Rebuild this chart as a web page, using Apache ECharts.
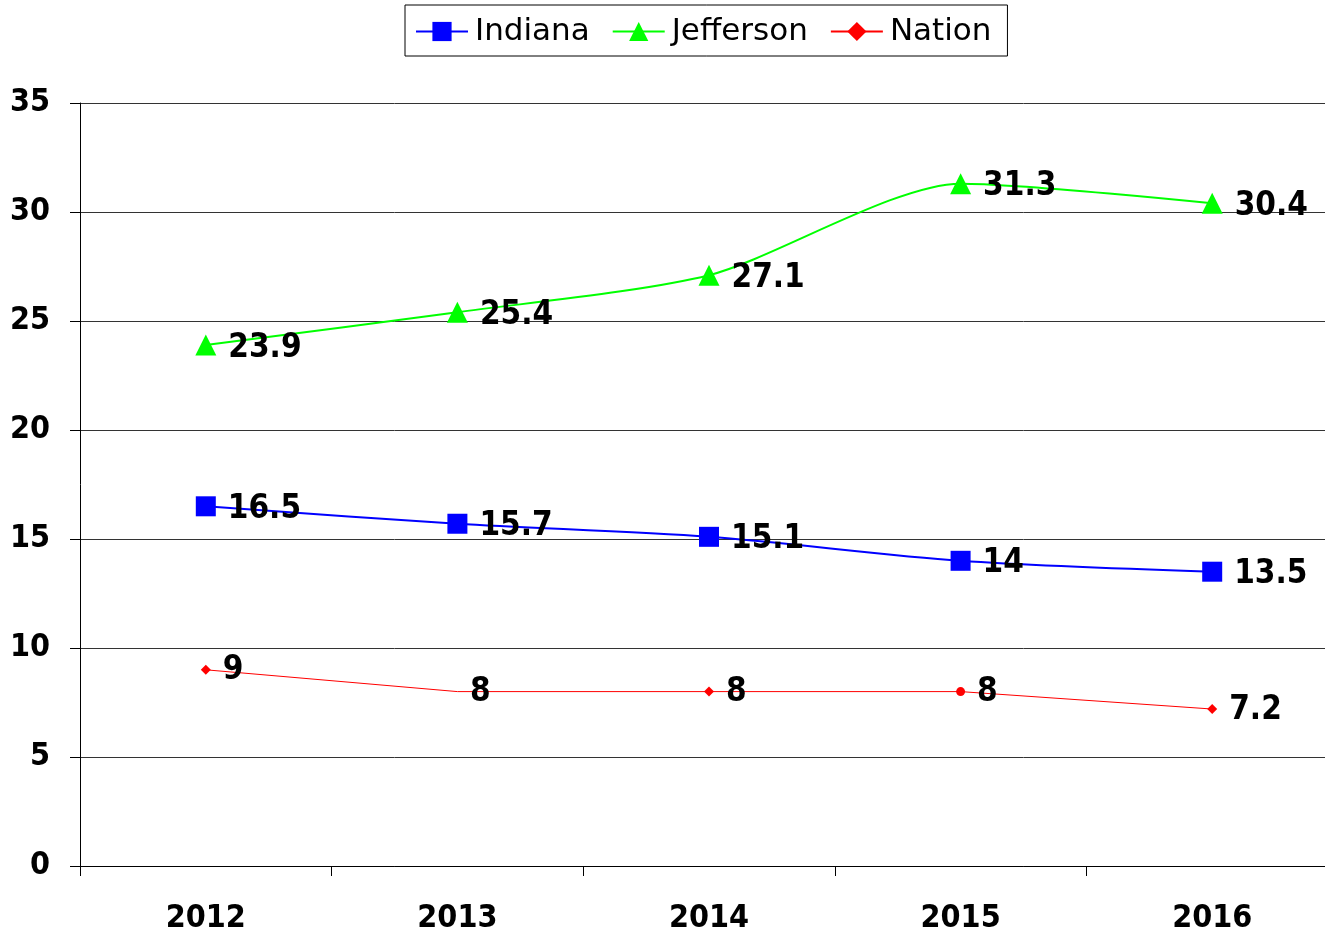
<!DOCTYPE html>
<html>
<head>
<meta charset="utf-8">
<script src="https://cdn.jsdelivr.net/npm/echarts@6/dist/echarts.min.js"></script>
<style>
	html, body { margin: 0; padding: 0; background: #fff; overflow: hidden; }
	#echart { width: 1338px; height: 934px; }
</style>
</head>
<body>
<div id="echart"></div>
<script>
let years = ['2012', '2013', '2014', '2015', '2016'];
let indiana = [16.5, 15.7, 15.1, 14, 13.5];
let jefferson = [23.9, 25.4, 27.1, 31.3, 30.4];
let nation = [9, 8, 8, 8, 7.2];
let nationSymbols = ['diamond', 'hidden', 'diamond', 'circle', 'diamond'];

let fontFamily = '"DejaVu Sans Condensed", "DejaVu Sans", Verdana, sans-serif';

function drawChart() {
	let dom = document.getElementById("echart");
	let myChart = echarts.init(dom);

	let labelStyle = {
		show: true,
		position: 'right',
		distance: 12,
		offset: [0, 3],
		color: '#000',
		fontSize: 33,
		fontWeight: 'bold',
		fontFamily: fontFamily
	};

	let option = {
		animation: false,
		backgroundColor: '#fff',
		legend: {
			top: 5,
			left: 405,
			data: ['Indiana', 'Jefferson', 'Nation'],
			borderColor: '#000',
			borderWidth: 1,
			padding: [11, 16, 9, 10],
			itemGap: 22,
			itemWidth: 52,
			itemHeight: 24,
			textStyle: {
				color: '#000',
				fontSize: 31,
				fontFamily: '"DejaVu Sans", Verdana, sans-serif',
				padding: [0, 0, 0, 2]
			}
		},
		grid: {
			left: 80,
			right: 0,
			top: 103,
			bottom: 68,
			containLabel: false,
			outerBoundsMode: 'none'
		},
		xAxis: {
			type: 'category',
			boundaryGap: true,
			data: years,
			axisLine: { lineStyle: { color: '#000', width: 1 } },
			axisTick: { show: true, length: 10, lineStyle: { color: '#000' } },
			axisLabel: {
				color: '#000',
				fontSize: 32,
				fontWeight: 'bold',
				fontFamily: fontFamily,
				margin: 37
			}
		},
		yAxis: {
			type: 'value',
			min: 0,
			max: 35,
			interval: 5,
			axisLine: { show: true, lineStyle: { color: '#000', width: 1 } },
			axisTick: { show: true, length: 10, lineStyle: { color: '#000' } },
			splitLine: { lineStyle: { color: '#333', width: 1 } },
			axisLabel: {
				color: '#000',
				fontSize: 32,
				fontWeight: 'bold',
				fontFamily: fontFamily,
				margin: 30,
				padding: [10, 0, 0, 0]
			}
		},
		series: [
			{
				name: 'Indiana',
				type: 'line',
				data: indiana,
				smooth: 0.3,
				symbol: 'rect',
				symbolSize: 20,
				itemStyle: { color: '#0000ff' },
				lineStyle: { color: '#0000ff', width: 2 },
				label: labelStyle
			},
			{
				name: 'Jefferson',
				type: 'line',
				data: jefferson,
				smooth: 0.25,
				symbol: 'triangle',
				symbolSize: 21,
				itemStyle: { color: '#00ff00' },
				lineStyle: { color: '#00ff00', width: 2 },
				label: labelStyle
			},
			{
				name: 'Nation',
				type: 'line',
				data: nation.map((v, i) => {
					let s = nationSymbols[i];
					if (s == 'hidden') {
						return { value: v, symbol: 'circle', symbolSize: 1, itemStyle: { color: 'rgba(0,0,0,0)' } };
					}
					return { value: v, symbol: s, symbolSize: s == 'circle' ? 9 : 10 };
				}),
				symbol: 'diamond',
				symbolSize: 10,
				showAllSymbol: true,
				itemStyle: { color: '#ff0000' },
				lineStyle: { color: '#ff0000', width: 1 },
				label: Object.assign({}, labelStyle, { distance: 12, offset: [0, 1] })
			}
		]
	};

	myChart.setOption(option);
}

drawChart();
</script>
</body>
</html>
